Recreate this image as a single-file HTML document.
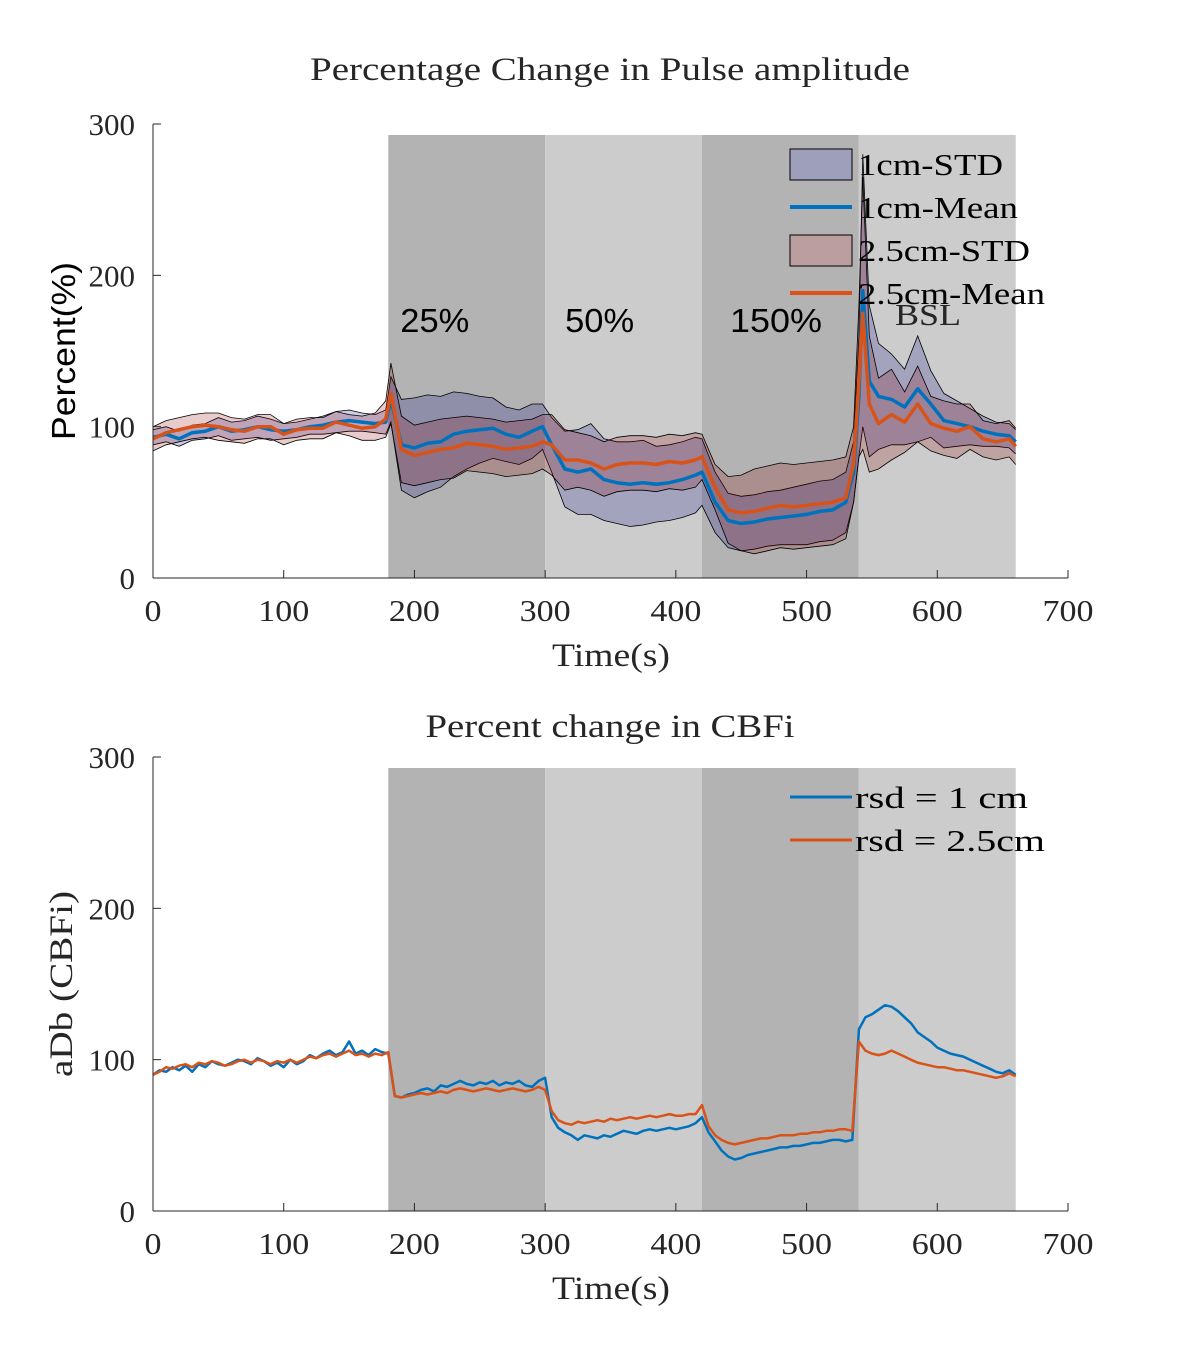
<!DOCTYPE html>
<html><head><meta charset="utf-8"><style>
body{margin:0;background:#fff}
svg text{font-family:"Liberation Serif",serif;fill:#262626}
.sans{font-family:"Liberation Sans",sans-serif !important;fill:#000 !important}
</style></head><body>
<svg id="fig" width="1181" height="1358" viewBox="0 0 1181 1358" xmlns="http://www.w3.org/2000/svg"></svg>
<script>
// ---- Top chart data (Pulse amplitude) ----
const tTop=[0,10,20,30,40,50,60,70,80,90,100,110,120,130,140,150,160,170,178,182,190,200,210,220,230,240,250,260,270,280,290,298,305,315,325,335,345,355,365,375,385,395,405,415,420,430,440,450,460,470,480,490,500,510,520,530,536,540,543,548,555,565,575,585,595,605,615,625,635,645,655,660];
const mean1=[93,95,92,96,97,100,97,98,100,98,97,98,100,101,103,104,103,102,103,118,88,86,89,90,95,97,98,99,95,93,97,100,88,72,70,72,65,63,62,63,62,63,65,68,70,50,38,36,37,39,40,41,42,44,45,50,70,120,190,130,120,118,113,125,115,104,102,100,97,95,94,90];
const std1=[5,5,5,5,5,6,6,6,7,7,5,5,5,6,7,7,6,6,8,15,30,33,32,30,28,25,22,20,18,18,18,15,18,25,28,30,27,27,28,28,25,25,25,25,22,20,18,18,18,18,18,19,20,20,20,20,20,40,90,50,35,30,25,35,22,18,15,12,10,8,8,8];
const mean2=[92,96,98,100,101,100,98,97,100,100,95,98,99,99,103,101,99,100,105,122,85,81,83,85,86,89,88,87,85,86,87,90,88,78,78,76,72,75,76,76,75,77,76,78,80,60,45,43,44,46,48,47,48,49,50,53,75,130,175,115,102,108,103,115,102,99,97,100,92,90,92,87];
const std2=[8,8,8,8,8,9,8,8,8,8,7,7,7,7,7,7,8,9,12,20,22,20,20,20,20,18,18,18,18,18,18,18,20,20,18,18,18,18,18,18,18,18,18,18,15,15,22,25,28,28,28,28,28,28,28,27,25,50,90,45,30,30,20,25,18,18,18,15,12,12,12,12];
// ---- Bottom chart data (CBFi), 5 s grid ----
const tStep=5;
const cbf1=[90,93,92,95,93,96,92,97,95,99,97,96,98,100,99,97,101,99,96,98,95,100,97,99,103,101,104,106,103,105,112,104,106,103,107,105,104,
76,75,77,78,80,81,79,83,82,84,86,84,83,85,84,86,83,85,84,86,83,82,86,88,
62,55,52,50,47,50,49,48,50,49,51,53,52,51,53,54,53,54,55,54,55,56,58,62,
52,46,40,36,34,35,37,38,39,40,41,42,42,43,43,44,45,45,46,47,47,46,47,120,
128,130,133,136,135,132,128,124,118,115,112,108,106,104,103,102,100,98,96,94,92,91,93,90];
const cbf2=[90,92,95,94,96,97,95,98,97,99,98,96,97,99,100,98,100,99,97,99,98,100,98,100,102,101,103,104,102,104,106,103,104,102,104,103,105,
76,75,76,77,78,77,78,79,78,80,81,80,79,80,81,80,79,80,81,80,79,80,82,80,
66,60,58,57,59,58,59,60,59,61,60,61,62,61,62,63,62,63,64,63,63,64,64,70,
56,50,47,45,44,45,46,47,48,48,49,50,50,50,51,51,52,52,53,53,54,54,53,112,
106,104,103,104,106,104,102,100,98,97,96,95,95,94,93,93,92,91,90,89,88,89,91,89];
const phases=[[180,300,'#b3b3b3'],[300,420,'#cccccc'],[420,540,'#b3b3b3'],[540,660,'#cccccc']];
const xTicks=[0,100,200,300,400,500,600,700];
const yTicks=[0,100,200,300];
const phaseLabels=['25%','50%','150%'];

const NS='http://www.w3.org/2000/svg';
const svg=document.getElementById('fig');
function el(tag,attrs,parent){const e=document.createElementNS(NS,tag);for(const k in attrs)e.setAttribute(k,attrs[k]);(parent||svg).appendChild(e);return e;}
function txt(s,attrs,parent,tl){const e=el('text',attrs,parent);e.textContent=s;if(tl){e.setAttribute('textLength',tl);e.setAttribute('lengthAdjust','spacingAndGlyphs');}return e;}

function makeAxes(y0,name){
  const X=v=>153+v*(1068-153)/700;
  const Y=v=>y0-v*454/300;
  const g=el('g',{});
  
  
  return {X,Y,g};
}
function drawFrame(ax){
  const {X,Y,g}=ax;
  phases.forEach((p,i)=>{const r=el('rect',{x:X(p[0]),y:Y(0)-443,width:X(p[1])-X(p[0]),height:443,fill:p[2]},g);
    });
}
function drawAxes(ax,title,titleLen,titleY,ylab,ySans,ylabLen){
  const {X,Y,g}=ax;
  const ag=el('g',{},g);
  
  el('line',{x1:X(0),y1:Y(0),x2:X(700),y2:Y(0),stroke:'#262626','stroke-width':1},ag);
  el('line',{x1:X(0),y1:Y(0),x2:X(0),y2:Y(300),stroke:'#262626','stroke-width':1},ag);
  xTicks.forEach(v=>{el('line',{x1:X(v),y1:Y(0),x2:X(v),y2:Y(0)-8,stroke:'#262626'},ag);
    const t=txt(String(v),{x:X(v),y:Y(0)+43,'text-anchor':'middle','font-size':31},ag,String(v).length*17);
    });
  yTicks.forEach(v=>{el('line',{x1:X(0),y1:Y(v),x2:X(0)+8,y2:Y(v),stroke:'#262626'},ag);
    const t=txt(String(v),{x:X(0)-18,y:Y(v)+11,'text-anchor':'end','font-size':31},ag,String(v).length*15.5);
    });
  const xt=txt('Time(s)',{x:611,y:Y(0)+88,'text-anchor':'middle','font-size':33},ag,118);
  
  const yt=txt(ylab,{x:0,y:0,'text-anchor':'middle','font-size':33,transform:`translate(${ySans?75:72},${Y(0)-227}) rotate(-90)`},ag,ylabLen);
  if(ySans)yt.setAttribute('class','sans');
  
  const tt=txt(title,{x:610,y:titleY,'text-anchor':'middle','font-size':33},ag,titleLen);
  
}
function linePath(xs,ys,X,Y){return xs.map((t,i)=>(i?'L':'M')+X(t).toFixed(1)+','+Y(ys[i]).toFixed(1)).join('');}

// ---- Top chart ----
const A=makeAxes(578,'pulse-amplitude-chart');
drawFrame(A);
[[mean1,std1,'#000080','band-1cm-std'],[mean2,std2,'#8b0000','band-2p5cm-std']].forEach(([m,s,c,n])=>{
  const up=m.map((v,i)=>v+s[i]), lo=m.map((v,i)=>Math.max(0,v-s[i]));
  let d=linePath(tTop,up,A.X,A.Y);
  for(let i=tTop.length-1;i>=0;i--)d+='L'+A.X(tTop[i]).toFixed(1)+','+A.Y(lo[i]).toFixed(1);
  const p=el('path',{d:d+'Z',fill:c,'fill-opacity':0.2,stroke:'none'},A.g);
  
  el('path',{d:linePath(tTop,up,A.X,A.Y),fill:'none',stroke:'#000','stroke-width':0.8},A.g);
  el('path',{d:linePath(tTop,lo,A.X,A.Y),fill:'none',stroke:'#000','stroke-width':0.8},A.g);
});
const l1=el('path',{d:linePath(tTop,mean1,A.X,A.Y),fill:'none',stroke:'#0072BD','stroke-width':3.5,'stroke-linejoin':'round'},A.g);

const l2=el('path',{d:linePath(tTop,mean2,A.X,A.Y),fill:'none',stroke:'#D95319','stroke-width':3.5,'stroke-linejoin':'round'},A.g);

phaseLabels.forEach((s,i)=>{const t=txt(s,{x:A.X(phases[i][0])+12+(i==1?8:0)+(i==2?16:0),y:332,'font-size':33,class:'sans'},A.g,s.length*23);
  });
const bsl=txt('BSL',{x:895,y:325,'font-size':31,style:'fill:#262626'},A.g,66);

drawAxes(A,'Percentage Change in Pulse amplitude',600,80,'Percent(%)',true,178);
// legend top
const lg=el('g',{},A.g);

[['1cm-STD','patch','#9e9fbb',145],['1cm-Mean','line','#0072BD',160],['2.5cm-STD','patch','#bb9e9f',172],['2.5cm-Mean','line','#D95319',187]].forEach((e,i)=>{
  const y=164+i*43;
  if(e[1]=='patch')el('rect',{x:790,y:y-15,width:62,height:31,fill:e[2],stroke:'#000','stroke-width':1},lg);
  else el('line',{x1:790,y1:y,x2:852,y2:y,stroke:e[2],'stroke-width':4},lg);
  const t=txt(e[0],{x:858,y:y+11,'font-size':31,style:'fill:#000'},lg,e[3]);
  
});

// ---- Bottom chart ----
const B=makeAxes(1211,'cbfi-chart');
drawFrame(B);
const tB=cbf1.map((_,i)=>i*tStep);
const b1=el('path',{d:linePath(tB,cbf1,B.X,B.Y),fill:'none',stroke:'#0072BD','stroke-width':2.5,'stroke-linejoin':'round'},B.g);

const b2=el('path',{d:linePath(tB,cbf2,B.X,B.Y),fill:'none',stroke:'#D95319','stroke-width':2.5,'stroke-linejoin':'round'},B.g);

drawAxes(B,'Percent change in CBFi',369,737,'aDb (CBFi)',false,186);
const lg2=el('g',{},B.g);

[['rsd = 1 cm','#0072BD',173],['rsd = 2.5cm','#D95319',190]].forEach((e,i)=>{
  const y=797+i*43;
  el('line',{x1:790,y1:y,x2:852,y2:y,stroke:e[1],'stroke-width':3},lg2);
  const t=txt(e[0],{x:855,y:y+11,'font-size':31,style:'fill:#000'},lg2,e[2]);
  
});
</script>
</body></html>
